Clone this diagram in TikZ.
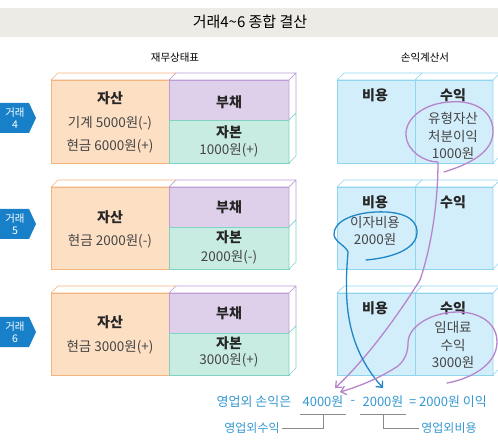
\documentclass[tikz,border=0pt]{standalone}
\usepackage{fontspec}
\setmainfont{Noto Sans CJK KR}
\usetikzlibrary{positioning,arrows.meta}

\definecolor{barfill}{HTML}{EDEBE5}
\definecolor{assetfill}{HTML}{FDDFC4}
\definecolor{assetline}{HTML}{F3B47E}
\definecolor{debtfill}{HTML}{DED0EA}
\definecolor{debtline}{HTML}{BC9DD6}
\definecolor{equityfill}{HTML}{C8EBE2}
\definecolor{equityline}{HTML}{7FD3C3}
\definecolor{incfill}{HTML}{D3EEFB}
\definecolor{incline}{HTML}{8FD5F0}
\definecolor{tagblue}{HTML}{1780C8}
\definecolor{violetpen}{HTML}{B784CC}
\definecolor{bluepen}{HTML}{1E86C5}
\definecolor{handblue}{HTML}{3497D0}
\definecolor{bracketgray}{HTML}{8A8A8A}
\definecolor{textgray}{HTML}{454545}

\begin{document}
\begin{tikzpicture}[x=1pt, y=-1pt,
    asset/.style={draw=assetline, fill=assetfill, line width=0.6pt},
    debt/.style={draw=debtline, fill=debtfill, line width=0.6pt},
    equity/.style={draw=equityline, fill=equityfill, line width=0.6pt},
    income/.style={draw=incline, fill=incfill, line width=0.6pt},
    face/.style={fill=white, line width=0.6pt, line join=round},
    tag/.style={fill=tagblue, draw=none},
    tagtext/.style={text=white, align=center, inner sep=0pt,
        font=\fontsize{10.5}{11.5}\selectfont},
    head/.style={text=black!85, inner sep=0pt, font=\fontsize{14}{17}\selectfont\bfseries},
    txt/.style={text=textgray, align=center, inner sep=0pt,
        font=\fontsize{13.5}{17.5}\selectfont},
    hand/.style={text=handblue, inner sep=2pt, font=\fontsize{13}{15}\selectfont},
    lbl/.style={text=handblue, inner sep=2pt, font=\fontsize{12}{14}\selectfont},
    bracket/.style={draw=bracketgray, line width=0.8pt},
    pen/.style={line width=1.3pt, line cap=round, line join=round,
        -{Straight Barb[length=5pt, width=9pt]}}
]
\useasboundingbox (0,0) rectangle (498,446);

% title
\fill[barfill] (0,8) rectangle (498,37);
\node (title) at (250,22) {\fontsize{15}{17}\selectfont 거래4\textasciitilde6 종합 결산};
\node[font=\fontsize{10.5}{12}\selectfont] (bshead) at (175,58) {재무상태표};
\node[font=\fontsize{10.5}{12}\selectfont] (ishead) at (425,58) {손익계산서};

% boxes
\foreach \n/\t/\b/\s/\c in {4/80/163/120/118, 5/187/269/227/224, 6/293/375/333/332} {
  \filldraw[asset] (51,\t) rectangle (169,\b);
  \filldraw[debt] (169,\t) rectangle (289,\s);
  \filldraw[equity] (169,\s) rectangle (289,\b);
  \filldraw[face, draw=assetline] (51,\t) -- (58,\t-7) -- (176,\t-7) -- (169,\t) -- cycle;
  \filldraw[face, draw=debtline] (169,\t) -- (176,\t-7) -- (296,\t-7) -- (289,\t) -- cycle;
  \filldraw[face, draw=debtline] (289,\t) -- (296,\t-7) -- (296,\s-7) -- (289,\s) -- cycle;
  \filldraw[face, draw=equityline] (289,\s) -- (296,\s-7) -- (296,\b-7) -- (289,\b) -- cycle;
  \filldraw[income] (337,\t) rectangle (415,\b);
  \filldraw[income] (415,\t) rectangle (493,\b);
  \filldraw[face, draw=incline] (337,\t) -- (344,\t-7) -- (422,\t-7) -- (415,\t) -- cycle;
  \filldraw[face, draw=incline] (415,\t) -- (422,\t-7) -- (500,\t-7) -- (493,\t) -- cycle;
  \filldraw[face, draw=incline] (493,\t) -- (500,\t-7) -- (500,\b-7) -- (493,\b) -- cycle;
  \fill[tag] (0,\c-15) -- (29,\c-15) -- (36,\c) -- (29,\c+15) -- (0,\c+15) -- cycle;
  \node[tagtext] (tag\n) at (15,\c) {거래\\\n};
}

% row 4
\node[head] (asset4) at (110,98) {자산};
\node[txt] (asset4b) at (110,134.5) {기계 5000원(-)\\[5.5pt]현금 6000원(+)};
\node[head] (debt4) at (229,102) {부채};
\node[head] (equity4) at (229,132) {자본};
\node[txt] (equity4b) at (229,150) {1000원(+)};
\node[head] (cost4) at (375,95) {비용};
\node[head] (rev4) at (453,95) {수익};
\node[txt] (rev4b) at (453,136) {유형자산\\처분이익\\1000원};

% row 5
\node[head] (asset5) at (110,217) {자산};
\node[txt] (asset5b) at (110,241) {현금 2000원(-)};
\node[head] (debt5) at (229,207) {부채};
\node[head] (equity5) at (229,237) {자본};
\node[txt] (equity5b) at (229,257) {2000원(-)};
\node[head] (cost5) at (375,202) {비용};
\node[txt] (cost5b) at (375,231) {이자비용\\2000원};
\node[head] (rev5) at (453,202) {수익};

% row 6
\node[head] (asset6) at (110,322) {자산};
\node[txt] (asset6b) at (110,347) {현금 3000원(+)};
\node[head] (debt6) at (229,313) {부채};
\node[head] (equity6) at (229,343) {자본};
\node[txt] (equity6b) at (229,360) {3000원(+)};
\node[head] (cost6) at (375,308) {비용};
\node[head] (rev6) at (453,308) {수익};
\node[txt] (rev6b) at (453,345) {임대료\\수익\\3000원};

% summary line
\node[hand] (lhs) at (254,402) {영업외 손익은};
\node[hand] (w4000) at (323,402) {4000원};
\node[hand] (minus) at (353,402) {-};
\node[hand] (w2000) at (383,402) {2000원};
\node[hand] (rhs) at (448,402) {= 2000원 이익};
\node[lbl] (inrev) at (252,428) {영업외수익};
\node[lbl] (outcost) at (449,428) {영업외비용};

\draw[bracket] ([yshift=-4pt]w4000.south west) -- ([yshift=-4pt]w4000.south east);
\draw[bracket] ([yshift=-4pt]w2000.south west) -- ([yshift=-4pt]w2000.south east);
\draw[bracket] ([yshift=-4pt]w4000.south) |- (inrev.east);
\draw[bracket] ([yshift=-4pt]w2000.south) |- (outcost.west);

% hand drawn loops
\draw[pen, violetpen] (444,172) .. controls (470,164) and (494,152) .. (493,130)
  .. controls (492,108) and (470,100) .. (450,102)
  .. controls (425,103) and (405,118) .. (406,135)
  .. controls (407,152) and (425,162) .. (438,162)
  .. controls (438,200) and (432,245) .. (420,280)
  .. controls (395,320) and (365,360) .. ([shift={(12,-6)}]w4000.north);
\draw[pen, bluepen] (366,260) .. controls (390,258) and (417,250) .. (417,232)
  .. controls (417,216) and (397,211) .. (376,212)
  .. controls (352,213) and (333,222) .. (334,235)
  .. controls (335,242) and (346,246) .. (348,252)
  .. controls (344,300) and (345,345) .. ([shift={(0,-6)}]w2000.north);
\draw[pen, violetpen] (447,383) .. controls (470,379) and (497,365) .. (497,342)
  .. controls (497,322) and (478,312) .. (458,312)
  .. controls (432,312) and (408,326) .. (408,343)
  .. controls (408,352) and (405,360) .. (398,366)
  .. controls (380,378) and (360,386) .. ([shift={(17,-2)}]w4000.north);
\end{tikzpicture}
\end{document}
